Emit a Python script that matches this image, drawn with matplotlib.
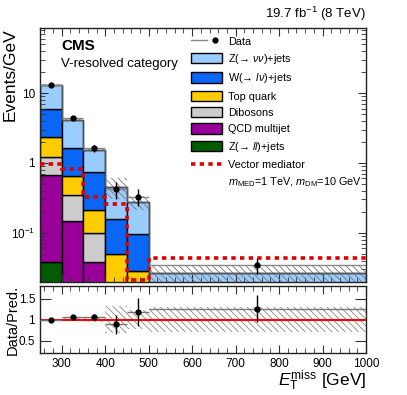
import numpy as np
import matplotlib
matplotlib.use('Agg')
import matplotlib.pyplot as plt
from matplotlib.patches import Rectangle
from matplotlib.lines import Line2D
from matplotlib.legend_handler import HandlerTuple
from matplotlib.ticker import FixedLocator, MultipleLocator, NullFormatter, LogLocator

plt.rcParams['font.family'] = ['Liberation Sans', 'DejaVu Sans']
plt.rcParams['mathtext.fontset'] = 'custom'
plt.rcParams['mathtext.rm'] = 'Liberation Sans'
plt.rcParams['mathtext.it'] = 'Liberation Sans:italic'
plt.rcParams['mathtext.bf'] = 'Liberation Sans:bold'
plt.rcParams['hatch.linewidth'] = 0.6

# binning (GeV)
edges = [250, 300, 350, 400, 450, 500, 1000]

# backgrounds, events/GeV, stacked bottom -> top
zll    = [0.0377, 0.012, 0.005, 0.002, 0.001, 0.0002]
qcd    = [0.632, 0.136, 0.033, 0.006, 0.003, 0.0003]
dibos  = [0.56, 0.195, 0.061, 0.008, 0.005, 0.001]
top    = [1.14, 0.313, 0.114, 0.034, 0.0196, 0.0015]
wjets  = [3.47, 0.954, 0.527, 0.106, 0.067, 0.007]
zvv    = [7.16, 2.49, 0.79, 0.30, 0.18, 0.0167]

# relative uncertainty on the prediction
bkg_unc = [0.02, 0.04, 0.07, 0.33, 0.22, 0.30]

# signal: vector mediator
signal = [0.98, 0.82, 0.32, 0.26, 0.021, 0.043]

# data
data     = [13.0, 4.34, 1.61, 0.42, 0.33, 0.0345]
data_err = [0.45, 0.27, 0.17, 0.12, 0.09, 0.0085]

# data / prediction
ratio     = [1.00, 1.06, 1.06, 0.89, 1.18, 1.26]
ratio_err = [0.03, 0.05, 0.07, 0.23, 0.33, 0.33]

labels = ['Z(→ $\\nu\\nu$)+jets', 'W(→ $l\\nu$)+jets',
          'Top quark', 'Dibosons', 'QCD multijet', 'Z(→ $ll$)+jets']
colors = ['#99ccff', '#0a66f5', '#ffcc00', '#cccccc', '#990099', '#005c00']

edges = np.array(edges, dtype=float)
lo = edges[:-1]
widths = np.diff(edges)
centers = lo + widths / 2

fig = plt.figure(figsize=(4.07, 3.95), dpi=100)
ax = fig.add_axes([0.0983, 0.287, 0.801, 0.642])
rax = fig.add_axes([0.0983, 0.106, 0.801, 0.170], sharex=ax)

# stacked histogram
comps = [zll, qcd, dibos, top, wjets, zvv]
ccols = colors[::-1]
bottom = np.full(len(lo), 1e-5)
for vals, col in zip(comps, ccols):
    vals = np.array(vals)
    ax.bar(lo, vals, width=widths, bottom=bottom, align='edge', color=col,
           edgecolor='black', linewidth=1.0, zorder=1)
    bottom = bottom + vals
total = bottom

# uncertainty band
unc = np.array(bkg_unc)
ax.stairs(total * (1 + unc), edges, baseline=total * (1 - unc), fill=True,
          facecolor='none', edgecolor='#777777', hatch='\\\\\\\\\\', linewidth=0, zorder=2)
ax.stairs(total, edges, baseline=None, color='#555555', linewidth=1.0, zorder=2)

# signal
ax.stairs(signal, edges, baseline=None, color='#dd0000', linewidth=2.6,
          linestyle=(0, (1.2, 1.2)), zorder=3)

# data
ax.errorbar(centers, data, xerr=widths / 2, fmt='none', ecolor='#888888', elinewidth=1.0, zorder=4)
ax.errorbar(centers, data, yerr=data_err, fmt='o', color='black', markersize=3.5,
            elinewidth=1.0, capsize=0, zorder=5)

ax.set_yscale('log')
ax.set_xlim(250, 1000)
ax.set_ylim(0.02, 85)
ax.yaxis.set_major_locator(FixedLocator([0.1, 1, 10]))
ax.set_yticklabels(['10$^{-1}$', '1', '10'])
ax.yaxis.set_minor_locator(LogLocator(base=10, subs=np.arange(2, 10), numticks=20))
ax.yaxis.set_minor_formatter(NullFormatter())
ax.set_ylabel('Events/GeV', fontsize=12.5, loc='top')
ax.yaxis.set_label_coords(-0.07, 1.0)
plt.setp(ax.get_xticklabels(), visible=False)

for a in (ax, rax):
    a.tick_params(which='both', direction='in', top=True, right=True, labelsize=8.5,
                  color='#333333')
    a.tick_params(which='major', length=6)
    a.tick_params(which='minor', length=3.5)
    for s in a.spines.values():
        s.set_linewidth(1.0)
        s.set_color('#222222')
ax.xaxis.set_major_locator(MultipleLocator(100))
ax.xaxis.set_minor_locator(MultipleLocator(20))

# texts
ax.text(0.065, 0.955, 'CMS', transform=ax.transAxes, fontsize=11, fontweight='bold', va='top')
ax.text(0.065, 0.88, 'V-resolved category', transform=ax.transAxes, fontsize=9.5, va='top')
ax.text(1.0, 1.02, '19.7 fb$^{-1}$ (8 TeV)', transform=ax.transAxes, fontsize=9.5,
        ha='right', va='bottom')

# legend
h_data = (Line2D([], [], color='#888888', lw=1.0),
          Line2D([], [], color='black', marker='o', markersize=3.5, lw=0))
handles = [h_data]
for col in colors:
    handles.append(Rectangle((0, 0), 1, 1, facecolor=col, edgecolor='black', linewidth=1.0))
handles.append(Line2D([], [], color='#dd0000', lw=2.6, linestyle=(0, (1.2, 1.2))))
handles.append(Line2D([], [], lw=0))
leg_labels = ['Data'] + labels + ['Vector mediator',
                                  '$m_{\\mathrm{MED}}$=1 TeV, $m_{\\mathrm{DM}}$=10 GeV']
ax.legend(handles, leg_labels, loc='upper left', bbox_to_anchor=(0.44, 1.0),
          frameon=False, fontsize=7.8, handlelength=2.9, handleheight=1.1,
          labelspacing=0.5, handletextpad=0.55, borderpad=0.2,
          handler_map={tuple: HandlerTuple(ndivide=None, pad=0)})

# ratio panel
rband_lo = 1 - unc
rax.stairs(1 + unc, edges, baseline=rband_lo, fill=True, facecolor='none',
           edgecolor='#888888', hatch='\\\\\\\\\\', linewidth=0, zorder=1)
rax.axhline(1.0, color='#ff0000', linewidth=1.5, zorder=2)
rax.errorbar(centers, ratio, xerr=widths / 2, fmt='none', ecolor='#777777', elinewidth=1.0, zorder=3)
rax.errorbar(centers, ratio, yerr=ratio_err, fmt='o', color='black', markersize=3.5,
             elinewidth=1.0, capsize=0, zorder=4)
rax.set_ylim(0.2, 1.8)
rax.yaxis.set_major_locator(FixedLocator([0.5, 1, 1.5]))
rax.set_yticklabels(['0.5', '1', '1.5'])
rax.yaxis.set_minor_locator(FixedLocator([]))
rax.tick_params(axis='y', which='major', length=8)
rax.set_ylabel('Data/Pred.', fontsize=10.5)
rax.yaxis.set_label_coords(-0.061, 0.5)
rax.set_xlim(250, 1000)
rax.set_xlabel('$E_{\\mathrm{T}}^{\\mathrm{miss}}$ [GeV]', fontsize=12.5, loc='right', labelpad=-1)

fig.savefig('out.png', dpi=100)
